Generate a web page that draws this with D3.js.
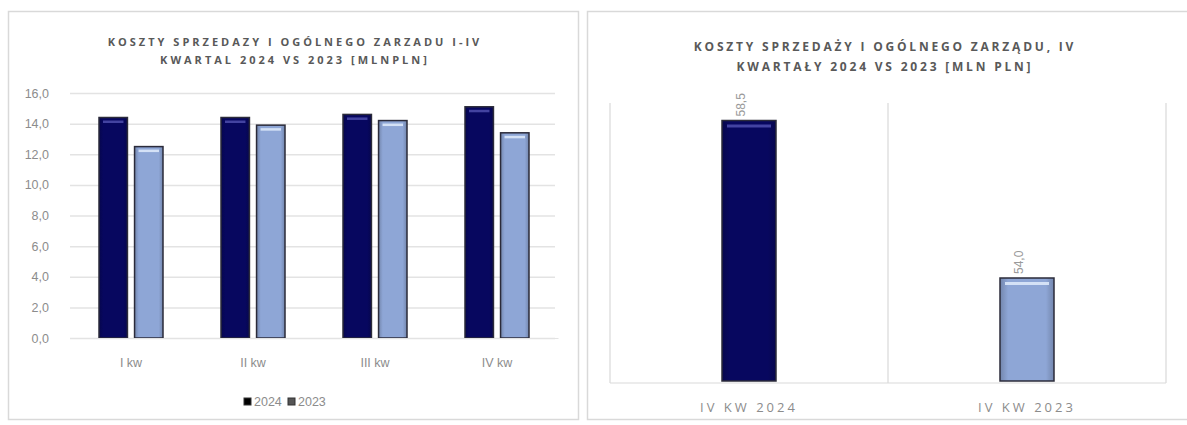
<!DOCTYPE html>
<html><head><meta charset="utf-8">
<script src="https://cdn.jsdelivr.net/npm/d3@7"></script>
<style>
body{margin:0;background:#fff;}
svg{display:block;}
</style></head>
<body>
<svg id="c" width="1187" height="425"></svg>
<script>
// ---- data ----
const quarters = ["I kw", "II kw", "III kw", "IV kw"];
const series = ["2024", "2023"];
const values2024 = [14.4, 14.4, 14.6, 15.1];
const values2023 = [12.5, 13.9, 14.2, 13.4];
const yTicks = [0, 2, 4, 6, 8, 10, 12, 14, 16];
const leftTitle = ["KOSZTY SPRZEDAZY I OGÓLNEGO ZARZADU I-IV", "KWARTAL 2024 VS 2023 [MLNPLN]"];

const totalCats = ["IV KW 2024", "IV KW 2023"];
const totalVals = [58.5, 54.0];
const totalLabels = ["58,5", "54,0"];
const rightTitle = ["KOSZTY SPRZEDAŻY I OGÓLNEGO ZARZĄDU, IV", "KWARTAŁY 2024 VS 2023 [MLN PLN]"];

const fmt = v => d3.format(".1f")(v).replace(".", ",");
const colors = {"2024": "#07075f", "2023": "#8ea6d6"};
const highlight = {"2024": "#4a4aa8", "2023": "#dce8fa"};
const narrow = "Liberation Sans Narrow, Arial Narrow, sans-serif";

const svg = d3.select("#c");

// gradients
const defs = svg.append("defs");
function grad(id, c) {
  const g = defs.append("linearGradient").attr("id", id).attr("x1", 0).attr("x2", 1).attr("y1", 0).attr("y2", 0);
  g.append("stop").attr("offset", "0%").attr("stop-color", d3.color(c).darker(0.6));
  g.append("stop").attr("offset", "15%").attr("stop-color", c);
  g.append("stop").attr("offset", "85%").attr("stop-color", c);
  g.append("stop").attr("offset", "100%").attr("stop-color", d3.color(c).darker(0.6));
}
grad("g2024", colors["2024"]);
grad("g2023", colors["2023"]);

// ---------- LEFT PANEL ----------
svg.append("rect").attr("x", 8.5).attr("y", 11.5).attr("width", 570).attr("height", 408)
  .attr("fill", "#fff").attr("stroke", "#d9d9d9").attr("stroke-width", 1.5);

const L = svg.append("g");
L.selectAll("text.t").data(leftTitle).join("text")
  .attr("x", 295).attr("y", (d, i) => 46 + i * 18)
  .attr("text-anchor", "middle")
  .attr("font-family", "Open Sans, sans-serif").attr("font-weight", 700)
  .attr("font-size", 11).attr("letter-spacing", 3).attr("fill", "#595959").text(d => d);

const y1 = d3.scaleLinear().domain([0, 16]).range([338, 93]);
const x1 = d3.scaleBand().domain(quarters).range([70, 558]);
const xs = d3.scaleBand().domain(series).range([0, 64]).paddingInner(0.2);

const yAx = L.append("g").attr("transform", "translate(70,0)")
  .call(d3.axisLeft(y1).tickValues(yTicks).tickSize(-485).tickFormat(fmt));
yAx.select(".domain").remove();
yAx.selectAll(".tick line").attr("stroke", "#e3e3e3").attr("stroke-width", 1.5);
yAx.selectAll(".tick text").attr("x", -21).attr("fill", "#8c8c8c")
  .attr("font-family", narrow).attr("font-size", 12.5);

const groups = L.selectAll("g.q").data(quarters).join("g")
  .attr("transform", d => `translate(${x1(d) + (x1.bandwidth() - 64) / 2},0)`);
const barData = (q, i) => [{s: "2024", v: values2024[i]}, {s: "2023", v: values2023[i]}];
groups.selectAll("rect.b").data(barData).join("rect")
  .attr("x", d => xs(d.s)).attr("width", xs.bandwidth())
  .attr("y", d => y1(d.v)).attr("height", d => y1(0) - y1(d.v))
  .attr("fill", d => `url(#g${d.s})`).attr("stroke", "#2b2b3a").attr("stroke-width", 1.5);
groups.selectAll("rect.h").data(barData).join("rect")
  .attr("x", d => xs(d.s) + 4).attr("width", xs.bandwidth() - 8)
  .attr("y", d => y1(d.v) + 3).attr("height", 2.5)
  .attr("fill", d => highlight[d.s]).attr("opacity", 0.9);

const xAx = L.append("g").attr("transform", "translate(0,338)")
  .call(d3.axisBottom(x1).tickSize(0).tickPadding(20));
xAx.select(".domain").attr("stroke", "#e3e3e3");
xAx.selectAll(".tick text").attr("fill", "#8c8c8c")
  .attr("font-family", narrow).attr("font-size", 12.5);

// legend
const lg = L.append("g").attr("transform", "translate(244,403)");
const li = lg.selectAll("g").data(series).join("g").attr("transform", (d, i) => `translate(${i * 44},0)`);
li.append("rect").attr("x", 0).attr("y", -5).attr("width", 7).attr("height", 7)
  .attr("fill", d => d === "2024" ? "#000" : "#555").attr("stroke", "#333");
li.append("text").attr("x", 10).attr("y", 3).attr("fill", "#8c8c8c")
  .attr("font-family", narrow).attr("font-size", 12.5).text(d => d);

// ---------- RIGHT PANEL ----------
svg.append("rect").attr("x", 587.5).attr("y", 11.5).attr("width", 610).attr("height", 408)
  .attr("fill", "#fff").attr("stroke", "#d9d9d9").attr("stroke-width", 1.5);

const R = svg.append("g");
R.selectAll("text.t").data(rightTitle).join("text")
  .attr("x", 885).attr("y", (d, i) => 51 + i * 20)
  .attr("text-anchor", "middle")
  .attr("font-family", "Open Sans, sans-serif").attr("font-weight", 700)
  .attr("font-size", 12).attr("letter-spacing", 2.8).attr("fill", "#595959").text(d => d);

const x2 = d3.scaleBand().domain(totalCats).range([610, 1166]);
const y2 = d3.scaleLinear().domain([51, 59]).range([383, 103]);

// frame lines (category separators)
const seps = [x2.range()[0], ...totalCats.map(c => x2(c) + x2.bandwidth())];
R.selectAll("line.sep").data(seps).join("line")
  .attr("x1", d => d).attr("x2", d => d).attr("y1", y2.range()[1]).attr("y2", y2.range()[0])
  .attr("stroke", "#d9d9d9").attr("stroke-width", 1.2);
R.append("line").attr("x1", x2.range()[0]).attr("x2", x2.range()[1])
  .attr("y1", y2.range()[0]).attr("y2", y2.range()[0]).attr("stroke", "#d9d9d9").attr("stroke-width", 1.2);

const bw = 54;
const tdata = totalCats.map((c, i) => ({c, v: totalVals[i], s: series[i], l: totalLabels[i]}));
R.selectAll("rect.b").data(tdata).join("rect")
  .attr("x", d => x2(d.c) + (x2.bandwidth() - bw) / 2).attr("width", bw)
  .attr("y", d => y2(d.v)).attr("height", d => y2(51) - y2(d.v) - 2)
  .attr("fill", d => `url(#g${d.s})`).attr("stroke", "#2b2b3a").attr("stroke-width", 1.5);
R.selectAll("rect.h").data(tdata).join("rect")
  .attr("x", d => x2(d.c) + (x2.bandwidth() - bw) / 2 + 5).attr("width", bw - 10)
  .attr("y", d => y2(d.v) + 4).attr("height", 3)
  .attr("fill", d => highlight[d.s]).attr("opacity", 0.9);

R.selectAll("text.v").data(tdata).join("text")
  .attr("transform", d => `translate(${x2(d.c) + x2.bandwidth() / 2 - 4},${y2(d.v) - 4}) rotate(-90)`)
  .attr("fill", "#9a9a9a").attr("font-family", narrow)
  .attr("font-size", 12).text(d => d.l);

R.selectAll("text.c").data(totalCats).join("text")
  .attr("x", d => x2(d) + x2.bandwidth() / 2).attr("y", 412).attr("text-anchor", "middle")
  .attr("fill", "#8c8c8c").attr("font-family", "Open Sans, sans-serif").attr("font-size", 13)
  .attr("letter-spacing", 3).text(d => d);
</script>
</body></html>
